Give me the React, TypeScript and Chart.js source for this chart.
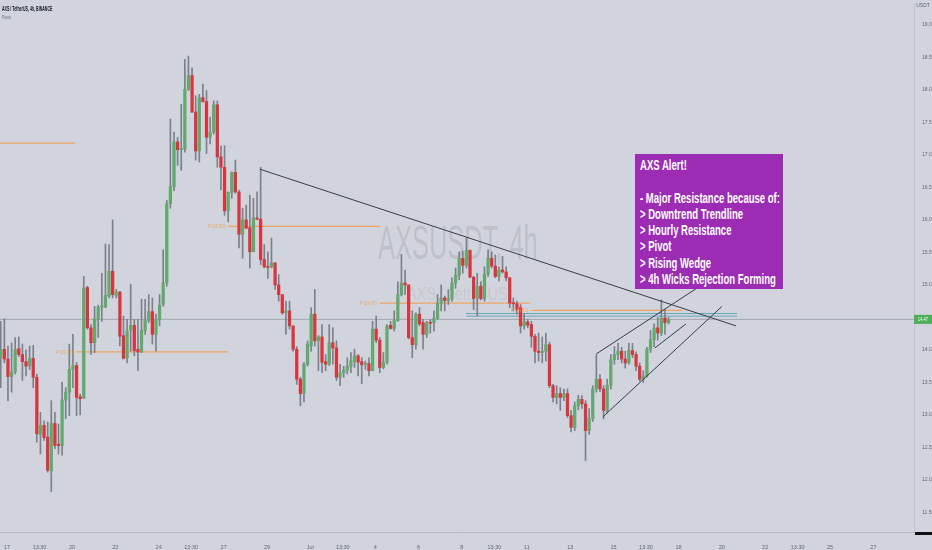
import { useEffect, useRef } from "react";
import { Chart, registerables } from "chart.js";
Chart.register(...registerables);

// [open, high, low, close] per 4h candle
const candles: [number, number, number, number][] = [
  [13.88, 14.44, 13.42, 14.01], [14.01, 14.48, 13.80, 13.86], [13.86, 14.06, 13.22, 13.59], [13.59, 14.11, 13.35, 13.66],
  [13.66, 14.19, 13.63, 14.01], [14.02, 14.20, 13.90, 13.93], [13.93, 14.09, 13.53, 13.82], [13.82, 14.00, 13.60, 13.75],
  [13.76, 14.06, 13.70, 13.87], [13.87, 14.07, 13.42, 13.58], [13.58, 13.63, 12.58, 12.71], [12.70, 13.04, 12.40, 12.84],
  [12.84, 12.91, 12.61, 12.65], [12.66, 12.89, 12.12, 12.15], [12.14, 13.22, 11.82, 12.87], [12.87, 13.04, 12.48, 12.53],
  [12.55, 12.86, 12.40, 12.53], [12.53, 13.50, 12.38, 13.23], [13.23, 13.42, 12.94, 13.35], [13.35, 14.09, 12.99, 13.70],
  [13.70, 14.24, 13.42, 13.76], [13.76, 13.81, 12.99, 13.27], [13.28, 13.32, 13.00, 13.25], [13.26, 15.13, 13.25, 14.95],
  [14.96, 14.98, 14.32, 14.34], [14.34, 14.39, 13.93, 14.11], [14.11, 14.67, 13.96, 14.48], [14.48, 14.69, 14.19, 14.66],
  [14.66, 15.18, 14.44, 14.68], [14.66, 15.63, 14.65, 14.84], [14.83, 15.62, 14.80, 15.21], [15.21, 16.00, 14.80, 14.85],
  [14.84, 14.93, 14.80, 14.89], [14.89, 14.90, 14.06, 14.21], [14.22, 14.52, 13.86, 13.87], [13.88, 14.47, 13.80, 14.29],
  [14.30, 15.01, 13.98, 14.38], [14.38, 14.47, 13.91, 13.99], [14.01, 14.47, 13.68, 13.97], [13.97, 14.78, 13.96, 14.30],
  [14.30, 14.78, 14.24, 14.45], [14.45, 14.85, 14.42, 14.59], [14.59, 14.80, 14.09, 14.24], [14.24, 14.55, 13.98, 14.47],
  [14.47, 14.85, 14.37, 14.69], [14.70, 15.54, 14.67, 15.03], [15.03, 16.30, 14.98, 16.25], [16.25, 17.55, 16.18, 16.51],
  [16.51, 17.35, 16.45, 17.20], [17.20, 17.27, 16.84, 17.08], [17.08, 17.78, 16.76, 17.10], [17.09, 18.47, 17.04, 18.01],
  [18.01, 18.52, 17.99, 18.22], [18.22, 18.34, 17.65, 17.66], [17.66, 17.91, 16.92, 17.06], [17.06, 17.93, 16.89, 17.88],
  [17.88, 18.09, 17.81, 17.82], [17.82, 17.99, 17.02, 17.27], [17.27, 17.58, 17.17, 17.35], [17.35, 17.83, 17.32, 17.77],
  [17.77, 17.83, 16.81, 16.97], [16.97, 17.14, 16.46, 16.81], [16.81, 17.14, 16.07, 16.14], [16.14, 16.43, 15.97, 16.42],
  [16.42, 16.74, 16.33, 16.73], [16.73, 16.92, 16.41, 16.43], [16.43, 16.46, 15.57, 15.78], [15.78, 16.18, 15.41, 16.00],
  [16.00, 16.23, 15.87, 15.87], [15.88, 16.38, 15.26, 15.51], [15.51, 16.33, 15.51, 16.03], [16.03, 16.43, 16.00, 16.01],
  [16.01, 16.81, 15.31, 15.39], [15.39, 15.62, 15.26, 15.28], [15.28, 15.51, 15.10, 15.27], [15.28, 15.72, 15.26, 15.34],
  [15.34, 15.34, 14.93, 15.00], [15.00, 15.16, 14.75, 14.85], [14.85, 14.85, 14.55, 14.57], [14.57, 14.75, 14.24, 14.60],
  [14.60, 14.75, 14.32, 14.37], [14.37, 14.37, 13.98, 14.01], [14.01, 14.05, 13.47, 13.55], [13.55, 13.58, 13.14, 13.33],
  [13.33, 13.81, 13.20, 13.78], [13.78, 14.14, 13.75, 14.09], [14.06, 14.65, 13.98, 14.55], [14.55, 14.93, 14.06, 14.14],
  [14.14, 14.22, 13.68, 14.20], [14.20, 14.39, 13.65, 13.81], [13.82, 13.93, 13.68, 13.78], [13.78, 14.39, 13.76, 14.11],
  [14.11, 14.34, 13.78, 14.03], [14.03, 14.14, 13.53, 13.58], [13.58, 13.78, 13.45, 13.65], [13.65, 13.75, 13.58, 13.69],
  [13.69, 13.88, 13.63, 13.75], [13.75, 13.96, 13.65, 13.83], [13.82, 14.01, 13.73, 13.91], [13.91, 13.93, 13.60, 13.81],
  [13.82, 13.88, 13.48, 13.77], [13.78, 13.83, 13.70, 13.79], [13.79, 13.88, 13.60, 13.68], [13.68, 14.44, 13.68, 14.32],
  [14.32, 14.52, 14.11, 14.15], [14.15, 14.19, 13.65, 13.73], [13.73, 13.96, 13.71, 13.81], [13.81, 14.39, 13.78, 14.37],
  [14.38, 14.44, 14.32, 14.33], [14.33, 14.60, 14.29, 14.45], [14.45, 15.05, 14.44, 14.85], [14.85, 15.47, 14.83, 15.03],
  [15.03, 15.23, 14.85, 15.00], [15.00, 15.00, 14.17, 14.19], [14.19, 14.60, 13.88, 14.08], [14.08, 14.57, 14.01, 14.55],
  [14.55, 14.65, 14.37, 14.40], [14.42, 14.47, 14.01, 14.24], [14.24, 14.44, 14.19, 14.42], [14.42, 14.47, 14.26, 14.41],
  [14.42, 14.60, 14.29, 14.49], [14.49, 14.85, 14.47, 14.72], [14.72, 15.00, 14.60, 14.80], [14.80, 14.83, 14.60, 14.76],
  [14.76, 14.93, 14.70, 14.79], [14.79, 15.11, 14.75, 15.03], [15.03, 15.26, 14.95, 15.15], [15.15, 15.51, 15.08, 15.41],
  [15.41, 15.52, 15.18, 15.30], [15.30, 15.72, 15.26, 15.53], [15.53, 15.54, 15.11, 15.12], [15.12, 15.13, 14.62, 14.79],
  [14.80, 15.18, 14.52, 14.98], [14.98, 15.05, 14.77, 14.79], [14.79, 15.28, 14.75, 15.17], [15.17, 15.54, 15.13, 15.41],
  [15.41, 15.51, 15.26, 15.29], [15.29, 15.46, 15.11, 15.13], [15.13, 15.28, 15.06, 15.23], [15.23, 15.44, 15.18, 15.20],
  [15.20, 15.28, 15.06, 15.11], [15.11, 15.11, 14.65, 14.72], [14.72, 14.80, 14.60, 14.71], [14.71, 14.75, 14.55, 14.62],
  [14.65, 14.70, 14.26, 14.37], [14.37, 14.55, 14.32, 14.44], [14.43, 14.47, 14.34, 14.38], [14.39, 14.44, 14.04, 14.21],
  [14.21, 14.24, 13.80, 13.98], [13.98, 14.26, 13.83, 13.96], [13.96, 14.20, 13.80, 13.98], [13.98, 14.26, 13.83, 14.08],
  [14.08, 14.12, 13.42, 13.45], [13.45, 13.47, 13.20, 13.27], [13.27, 13.45, 13.17, 13.33], [13.33, 13.42, 13.07, 13.27],
  [13.27, 13.40, 13.22, 13.33], [13.33, 13.40, 12.96, 12.99], [12.99, 13.07, 12.74, 12.81], [12.81, 13.20, 12.76, 13.14],
  [13.14, 13.30, 13.08, 13.24], [13.24, 13.30, 13.10, 13.17], [13.17, 13.22, 12.30, 12.76], [12.76, 13.10, 12.70, 12.94],
  [12.94, 13.45, 12.90, 13.40], [13.40, 13.93, 13.35, 13.55], [13.55, 13.62, 13.36, 13.40], [13.40, 13.45, 12.94, 13.07],
  [13.07, 13.55, 13.03, 13.46], [13.46, 13.93, 13.40, 13.85], [13.85, 14.05, 13.78, 13.93], [13.93, 14.10, 13.85, 13.98],
  [13.98, 14.04, 13.80, 13.86], [13.86, 13.98, 13.72, 13.80], [13.80, 14.10, 13.78, 13.99], [13.99, 14.10, 13.88, 13.93],
  [13.93, 13.97, 13.68, 13.75], [13.75, 13.80, 13.52, 13.55], [13.55, 13.68, 13.50, 13.60], [13.60, 14.04, 13.58, 14.01],
  [14.01, 14.30, 13.96, 14.16], [14.16, 14.40, 14.05, 14.34], [14.34, 14.50, 14.15, 14.26], [14.26, 14.77, 14.22, 14.49],
  [14.49, 14.62, 14.24, 14.42], [14.42, 14.50, 14.40, 14.47],
];

// time axis (candle index positions) and labels
const xTickPositions = [1.75, 10.75, 19.75, 31.75, 43.75, 52.75, 61.75, 73.75, 85.75, 94.75, 103.75, 115.75,
  127.75, 136.75, 145.75, 157.75, 169.75, 178.75, 187.75, 199.75, 211.75, 220.75, 229.75, 241.75];
const xTickLabels = ["17", "13:30", "20", "22", "24", "13:30", "27", "29", "Jul", "13:30", "4", "6",
  "8", "13:30", "11", "13", "15", "13:30", "18", "20", "22", "13:30", "25", "27"];
const yTickValues = [11.5, 12, 12.5, 13, 13.5, 14, 14.5, 15, 15.5, 16, 16.5, 17, 17.5, 18, 18.5, 19];

// pivots
const pivotLevels = [17.18, 13.97, 15.9, 14.72, 14.61];
const pivotStarts = [-0.19, 20.9, 63.0, 105.0, 147.0];
const pivotEnds = [20.6, 63.0, 105.0, 146.6, 188.7];
const pivotLabels = ["P (17.18)", "P (13.97)", "P (15.90)", "P (14.72)", "P (14.61)"];

// drawn trend lines: [x1, y1, x2, y2]
const trendLines: [number, number, number, number][] = [
  [71.8, 16.78, 203.7, 14.37], // downtrend
  [165.0, 13.94, 194.5, 15.01], // wedge upper
  [166.8, 12.97, 199.8, 14.67], // wedge lower
  [181.2, 14.03, 189.8, 14.4], // inner
];
const resistanceZone = [14.52, 14.56];
const resistanceStart = 128.9;
const resistanceEnd = 204.0;
const lastPrice = 14.47;

const alertLines = [
  "AXS Alert!",
  "",
  "- Major Resistance because of:",
  "> Downtrend Trendline",
  "> Hourly Resistance",
  "> Pivot",
  "> Rising Wedge",
  "> 4h Wicks Rejection Forming",
];

const X_MIN = -0.194;
const X_MAX = 252.99;
const GREEN = "#63a86f";
const RED = "#d8363f";
const WICK = "#7c808a";
const PIVOT = "rgba(247,150,60,0.75)";
const BG = "#d1d4dc";

export default function App() {
  const ref = useRef<HTMLCanvasElement>(null);

  useEffect(() => {
    document.body.style.margin = "0";
    const canvas = ref.current;
    if (!canvas) return;

    const line = (pts: { x: number; y: number }[], color: string, width = 1, order = 0) => ({
      type: "line" as const,
      data: pts,
      borderColor: color,
      borderWidth: width,
      pointRadius: 0,
      fill: false,
      tension: 0,
      order,
    });

    const datasets: any[] = [];
    trendLines.forEach((t) =>
      datasets.push(line([{ x: t[0], y: t[1] }, { x: t[2], y: t[3] }], "#3a3d46", 1, 0))
    );
    resistanceZone.forEach((v) =>
      datasets.push(line([{ x: resistanceStart, y: v }, { x: resistanceEnd, y: v }], "#6aa7b8", 1, 4))
    );
    pivotLevels.forEach((v, i) =>
      datasets.push(line([{ x: pivotStarts[i], y: v }, { x: pivotEnds[i], y: v }], PIVOT, 1.2, 5))
    );
    datasets.push(line([{ x: X_MIN, y: lastPrice }, { x: X_MAX, y: lastPrice }], "rgba(120,123,134,0.5)", 1, 6));
    datasets.push({
      type: "bar",
      data: candles.map((c, i) => ({ x: i, y: [c[2], c[1]] })),
      backgroundColor: WICK,
      barThickness: 1,
      grouped: false,
      order: 3,
    });
    datasets.push({
      type: "bar",
      data: candles.map((c, i) => ({ x: i, y: [c[0], c[3]] })),
      backgroundColor: candles.map((c) => (c[3] >= c[0] ? GREEN : RED)),
      barThickness: 2.6,
      minBarLength: 1,
      grouped: false,
      order: 2,
    });

    const overlay = {
      id: "overlay",
      afterDatasetsDraw(chart: any) {
        const { ctx, scales } = chart;
        const x = scales.x;
        const y = scales.y;
        ctx.save();
        ctx.fillStyle = PIVOT;
        ctx.font = '6px "Liberation Sans", Arial, sans-serif';
        ctx.textAlign = "right";
        ctx.textBaseline = "middle";
        pivotLabels.forEach((t, i) => {
          const px = x.getPixelForValue(pivotStarts[i]) - 3;
          const py = y.getPixelForValue(pivotLevels[i]);
          ctx.save();
          ctx.translate(px, py);
          ctx.scale(0.7, 1);
          ctx.fillText(t, 0, 0);
          ctx.restore();
        });
        ctx.restore();
      },
      afterDraw(chart: any) {
        const { ctx, scales } = chart;
        const y = scales.y;
        const py = y.getPixelForValue(lastPrice);
        ctx.save();
        ctx.fillStyle = "#4fae5a";
        ctx.fillRect(y.left, py - 4.5, y.right - y.left, 9);
        ctx.fillStyle = "#ffffff";
        ctx.font = '5.5px "Liberation Sans", Arial, sans-serif';
        ctx.textAlign = "center";
        ctx.textBaseline = "middle";
        ctx.save();
        ctx.translate((y.left + y.right) / 2, py + 0.5);
        ctx.scale(0.75, 1);
        ctx.fillText(lastPrice.toFixed(2), 0, 0);
        ctx.restore();
        ctx.restore();
      },
    };

    const chart = new Chart(canvas, {
      type: "bar",
      data: { datasets },
      plugins: [overlay],
      options: {
        responsive: false,
        maintainAspectRatio: false,
        animation: false,
        layout: { padding: 0 },
        plugins: { legend: { display: false }, tooltip: { enabled: false } },
        scales: {
          x: {
            type: "linear",
            min: X_MIN,
            max: X_MAX,
            offset: false,
            grid: { display: false, offset: false },
            border: { display: true, color: "#b4b7c0", width: 1 },
            afterBuildTicks: (s: any) => {
              s.ticks = xTickPositions.map((v) => ({ value: v }));
            },
            afterFit: (s: any) => {
              s.height = 18;
            },
            ticks: {
              autoSkip: false,
              maxRotation: 0,
              padding: 4,
              color: "#62656f",
              font: { size: 5.5, family: '"Liberation Sans", Arial, sans-serif' },
              callback: (_v: any, i: number) => xTickLabels[i],
            },
          },
          y: {
            type: "linear",
            position: "right",
            min: 11.2,
            max: 19.336,
            grid: { display: false },
            border: { display: true, color: "#c3c6ce", width: 1 },
            afterBuildTicks: (s: any) => {
              s.ticks = yTickValues.map((v) => ({ value: v }));
            },
            afterFit: (s: any) => {
              s.width = 18;
            },
            ticks: {
              crossAlign: "center",
              padding: 0,
              color: "#62656f",
              font: { size: 5, family: '"Liberation Sans", Arial, sans-serif' },
              callback: (v: any) => Number(v).toFixed(2),
            },
          },
        },
      } as any,
    });
    return () => chart.destroy();
  }, []);

  return (
    <div style={{ position: "relative", width: 932, height: 550, background: BG, overflow: "hidden" }}>
      <div
        style={{
          position: "absolute", left: 378, top: 219, fontSize: 48, lineHeight: "48px",
          fontFamily: '"Liberation Sans", Arial, sans-serif', color: "rgba(120,123,134,0.22)",
          transform: "scaleX(0.53)", transformOrigin: "left top", whiteSpace: "pre",
        }}
      >
        AXSUSDT, 4h
      </div>
      <div
        style={{
          position: "absolute", left: 407, top: 284.6, fontSize: 18, lineHeight: "18px",
          fontFamily: '"Liberation Sans", Arial, sans-serif', color: "rgba(120,123,134,0.15)",
          transform: "scaleX(0.8)", transformOrigin: "left top", whiteSpace: "pre",
        }}
      >
        AXS / TetherUS
      </div>
      <canvas ref={ref} width={932} height={550} style={{ position: "absolute", left: 0, top: 0, width: 932, height: 550 }} />
      <div
        style={{
          position: "absolute", left: 2, top: 5, fontSize: 6.5, lineHeight: "7px", fontWeight: 700,
          fontFamily: '"Liberation Sans", Arial, sans-serif', color: "#131722",
          transform: "scaleX(0.55)", transformOrigin: "left top", whiteSpace: "pre",
        }}
      >
        AXS / TetherUS, 4h, BINANCE
      </div>
      <div
        style={{
          position: "absolute", left: 2, top: 14, fontSize: 6, lineHeight: "7px",
          fontFamily: '"Liberation Sans", Arial, sans-serif', color: "#6a6d78",
          transform: "scaleX(0.55)", transformOrigin: "left top", whiteSpace: "pre",
        }}
      >
        Pivots
      </div>
      <div
        style={{
          position: "absolute", left: 914, width: 18, top: 2, fontSize: 5, lineHeight: "7px", textAlign: "center",
          fontFamily: '"Liberation Sans", Arial, sans-serif', color: "#62656f",
        }}
      >
        USDT
      </div>
      <div style={{ position: "absolute", left: 915, top: 532, width: 17, height: 3, background: "#111" }} />
      <div style={{ position: "absolute", left: 635, top: 154, width: 148, height: 135, background: "#9c2cb3" }}>
        <div
          style={{
            position: "absolute", left: 5, top: 3.4, fontSize: 15, lineHeight: "16.2px", fontWeight: 700,
            fontFamily: '"Liberation Sans", Arial, sans-serif', color: "#ffffff",
            transform: "scaleX(0.636)", transformOrigin: "left top", whiteSpace: "pre",
          }}
        >
          {alertLines.map((l, i) => (
            <div key={i} style={{ height: 16.2 }}>{l}</div>
          ))}
        </div>
      </div>
    </div>
  );
}
